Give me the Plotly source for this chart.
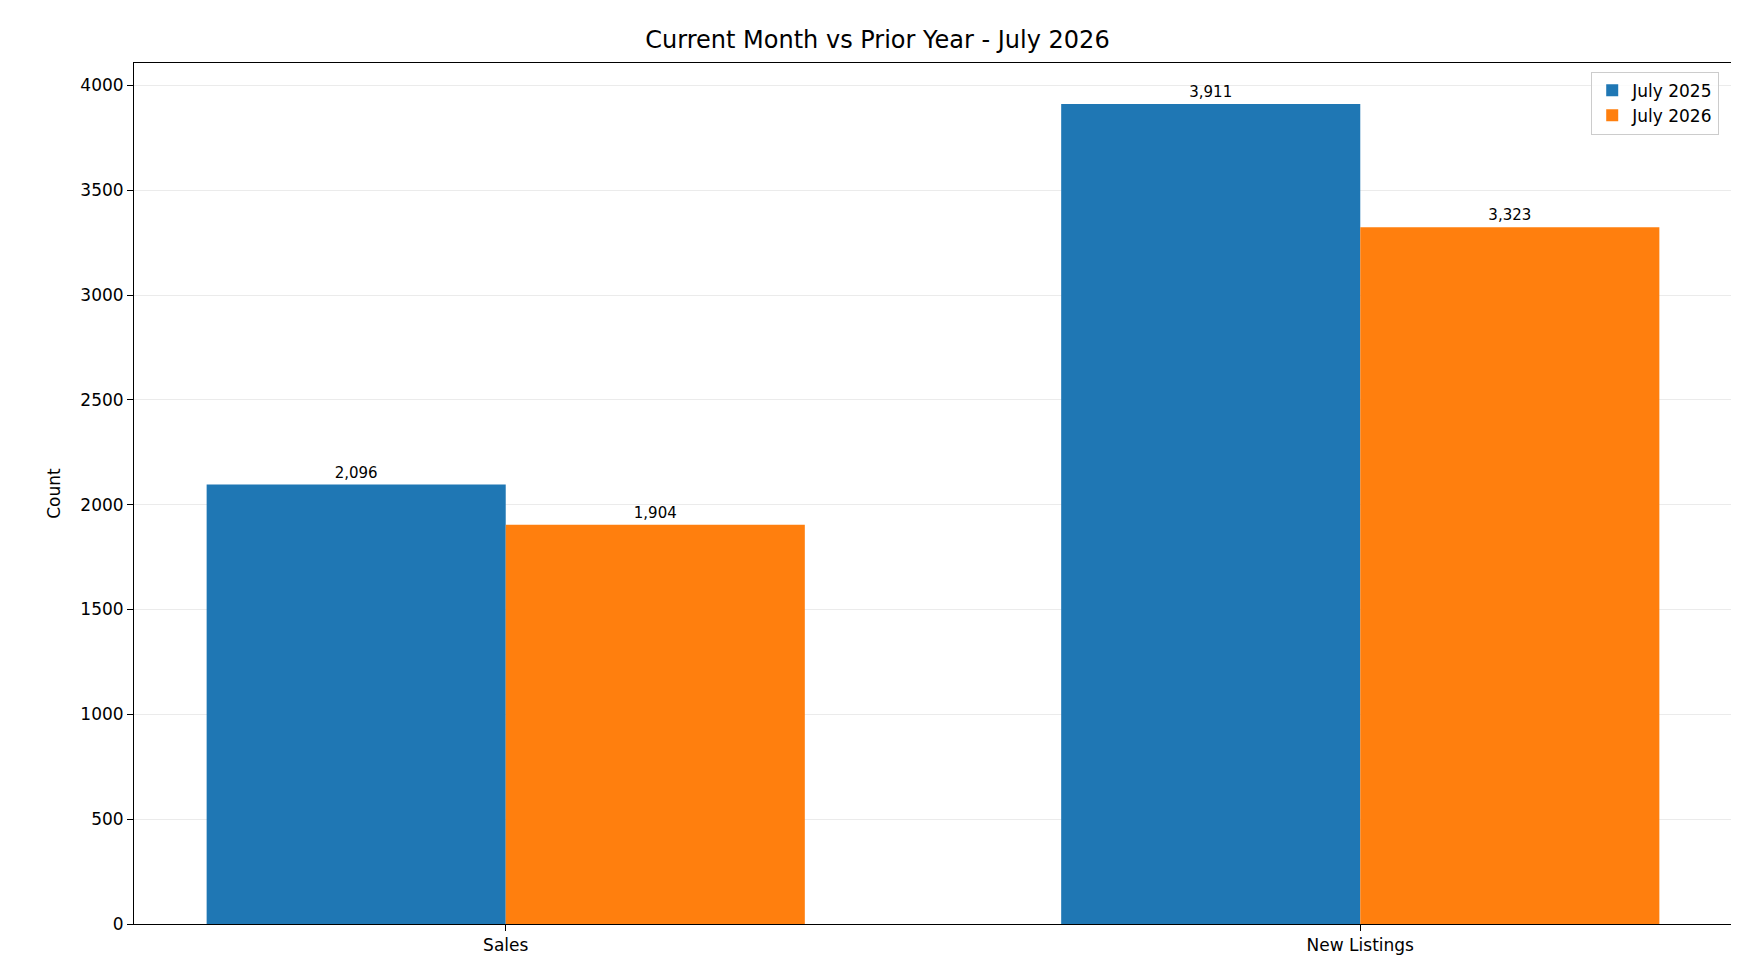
import plotly.graph_objects as go

categories = ["Sales", "New Listings"]
july_2025 = [2096, 3911]
july_2026 = [1904, 3323]

fig = go.Figure()
for name, vals, col in [("July 2025", july_2025, "#1f77b4"), ("July 2026", july_2026, "#ff7f0e")]:
    fig.add_trace(go.Bar(x=categories, y=vals, name=name, marker_color=col, marker_line_width=0,
                         text=[f"{v:,}" for v in vals], textposition="outside",
                         textfont=dict(size=15, color="black"), cliponaxis=False))

fig.update_layout(
    width=1739, height=972, barmode="group", bargap=0.3, bargroupgap=0,
    plot_bgcolor="white", paper_bgcolor="white",
    font=dict(family="DejaVu Sans", color="black", size=16),
    title=dict(text="Current Month vs Prior Year - July 2026", x=0.5, xanchor="center", y=0.968, yanchor="middle",
               font=dict(size=24)),
    margin=dict(l=126, r=15, t=55, b=56),
    legend=dict(x=0.992, y=0.99, xanchor="right", yanchor="top", bordercolor="#cccccc", borderwidth=1,
                font=dict(size=17), bgcolor="rgba(255,255,255,0.8)"),
    xaxis=dict(range=[-0.435, 1.435], showline=True, linecolor="black", mirror=True, ticks="outside",
               tickcolor="black", ticklen=6, tickfont=dict(size=17)),
    yaxis=dict(range=[0, 4106.5], dtick=500, showline=True, linecolor="black", mirror=True, ticks="outside",
               tickcolor="black", ticklen=6, showgrid=True, gridcolor="#ebebeb", zeroline=False,
               title=dict(text="Count", font=dict(size=17)), tickfont=dict(size=17)),
)
fig.write_html("out.html")
